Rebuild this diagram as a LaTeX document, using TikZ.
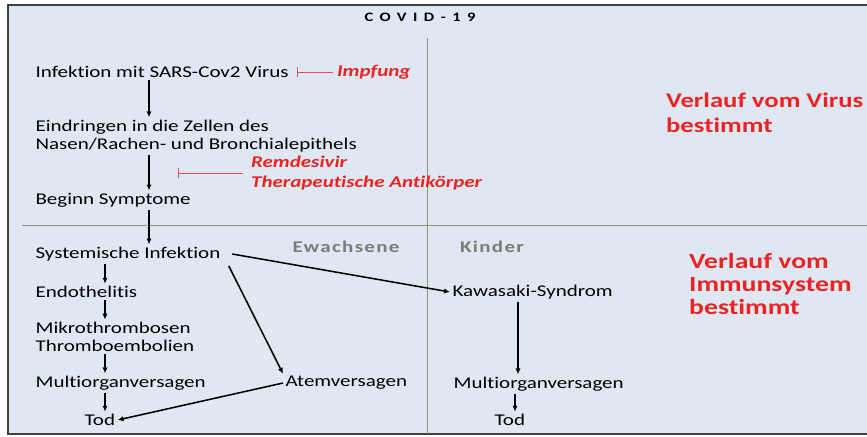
\documentclass[tikz,border=0pt]{standalone}
\usepackage{fontspec}
\setmainfont{Carlito}[Ligatures={NoCommon}, FakeStretch=1.28]
\usetikzlibrary{arrows.meta}
\definecolor{panelbg}{RGB}{223,232,242}
\definecolor{divider}{RGB}{135,150,125}
\definecolor{redtxt}{RGB}{235,35,35}
\definecolor{graytxt}{RGB}{115,128,115}

\begin{document}
\begin{tikzpicture}[x=0.03cm, y=-0.03cm,
  txt/.style={font=\fontsize{14}{15.5}\selectfont, inner sep=2pt, align=left, anchor=west},
  drug/.style={font=\fontsize{14}{17}\selectfont\bfseries\itshape, text=redtxt, align=left, anchor=west},
  hint/.style={font=\fontsize{18.5}{19.5}\selectfont\bfseries, text=redtxt, align=left, anchor=west},
  group/.style={font=\fontsize{14}{15}\selectfont\bfseries\addfontfeature{LetterSpace=8}, text=graytxt},
  arr/.style={-{Latex[length=5pt,width=4.5pt]}, line width=1.3pt},
  inhibit/.style={-{Bar[width=9pt]}, redtxt!80, line width=0.6pt},
  divline/.style={divider, line width=0.8pt}
]
  \useasboundingbox (0,0) rectangle (867,436);

  % === FRAME ===
  \fill[panelbg] (8,5) rectangle (867,434);
  \draw[line width=1pt, black!75] (867,5) -- (8,5) -- (8,434) -- (867,434);
  \node[font=\fontsize{11}{13}\selectfont\bfseries\addfontfeature{LetterSpace=50}] (title) at (420,17) {COVID-19};

  % quadrant lines
  \draw[divline] (427,38) -- (427,434);
  \draw[divline] (22,225) -- (867,225);

  % column coordinates for the vertical arrows
  \coordinate (colA) at (149,0);
  \coordinate (colB) at (105,0);
  \coordinate (colC) at (518,0);
  \coordinate (colD) at (515,0);

  % === VIRUS PHASE ===
  \node[txt] (inf) at (33,72) {Infektion mit SARS-Cov2 Virus};
  \node[drug] (impf) at (333,72) {Impfung};
  \coordinate (impbar) at (297,72);
  \draw[inhibit] (impf.west) -- (impbar);

  \node[txt] (ein) at (33,136) {Eindringen in die Zellen des\\Nasen/Rachen- und Bronchialepithels};
  \node[drug] (rem) at (247,173) {Remdesivir\\Therapeutische Antikörper};
  \coordinate (rembar) at (178,173);
  \draw[inhibit] ([xshift=-3pt]rem.west) -- (rembar);

  \node[txt] (sym) at (33,200) {Beginn Symptome};

  \draw[arr] (inf.south -| colA) -- (ein.north -| colA);
  \draw[arr] (ein.south -| colA) -- (sym.north -| colA);

  \node[hint, font=\fontsize{17.8}{21}\selectfont\bfseries] (virus) at (662,113) {Verlauf vom Virus\\bestimmt};

  % === IMMUNE PHASE: ADULTS ===
  \node[group] (adult) at (346,247) {Ewachsene};
  \node[txt] (sys) at (33,254) {Systemische Infektion};
  \node[txt] (endo) at (33,292) {Endothelitis};
  \node[txt] (mikro) at (33,337) {Mikrothrombosen\\Thromboembolien};
  \node[txt] (moA) at (33,383) {Multiorganversagen};
  \node[txt] (todA) at (82,420) {Tod};
  \node[txt] (atem) at (283,383) {Atemversagen};

  \draw[arr] (sym.south -| colA) -- (sys.north -| colA);
  \draw[arr] (sys.south -| colB) -- (endo.north -| colB);
  \draw[arr] (endo.south -| colB) -- (mikro.north -| colB);
  \draw[arr] (mikro.south -| colB) -- (moA.north -| colB);
  \draw[arr] (moA.south -| colB) -- (todA.north -| colB);
  \draw[arr] ([xshift=5pt,yshift=-2pt]sys.south east) -- (atem.north west);
  \draw[arr] (atem.west) -- (todA.east);

  % === IMMUNE PHASE: CHILDREN ===
  \node[group] (kids) at (492,247) {Kinder};
  \node[txt] (kawa) at (450,292) {Kawasaki-Syndrom};
  \node[txt] (moB) at (451,384) {Multiorganversagen};
  \node[txt] (todB) at (492,420) {Tod};

  \draw[arr] ([xshift=8pt]sys.east) -- (kawa.west);
  \draw[arr] (kawa.south -| colC) -- (moB.north -| colC);
  \draw[arr] (moB.south -| colD) -- (todB.north -| colD);

  \node[hint] (immun) at (685,284) {Verlauf vom\\Immunsystem\\bestimmt};
\end{tikzpicture}
\end{document}
